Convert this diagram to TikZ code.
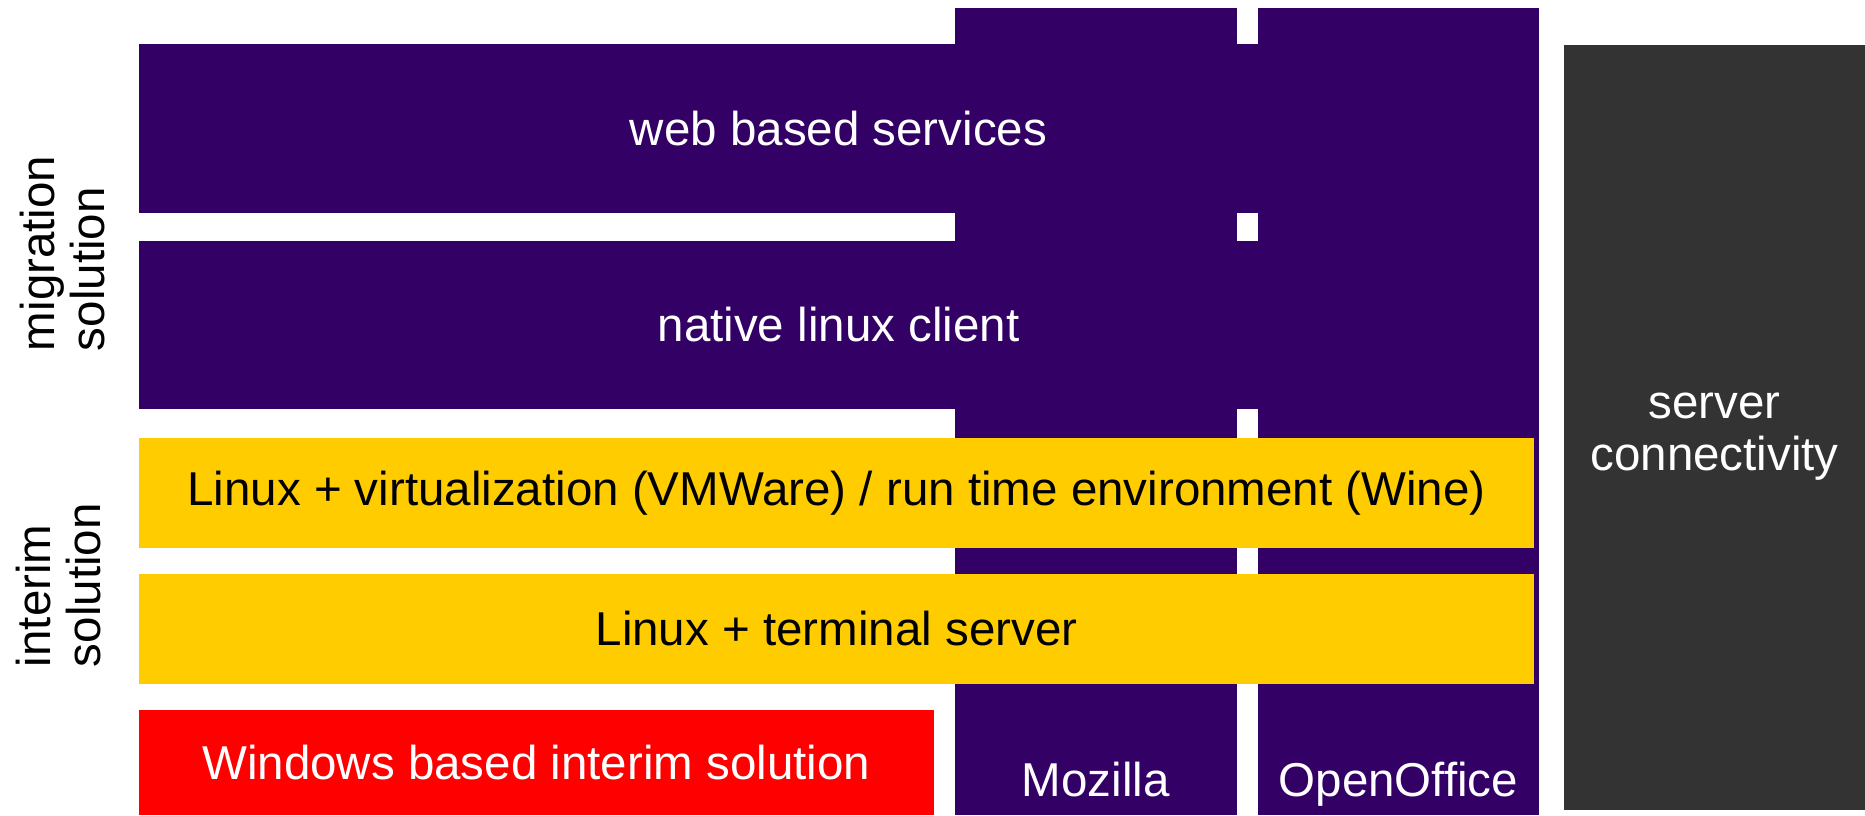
\documentclass[tikz,border=0pt]{standalone}
\usepackage{fontspec}
\setmainfont{Liberation Sans}
\definecolor{purp}{HTML}{330066}
\definecolor{yel}{HTML}{FFCC00}
\definecolor{redb}{HTML}{FF0000}
\definecolor{srv}{HTML}{333333}
\begin{document}
\begin{tikzpicture}[x=1pt,y=-1pt,
  every node/.style={inner sep=0pt, outer sep=0pt, font=\fontsize{47.5}{50}\selectfont},
  block/.style={rectangle, draw=none, fill=#1},
  wtext/.style={text=white},
  btext/.style={text=black}]
\useasboundingbox[fill=white] (0,0) rectangle (1865,815);
% application columns
\node[block=purp, minimum width=281.6pt, minimum height=806.7pt] (moz) at (1095.8,411.65) {};
\node[block=purp, minimum width=280.8pt, minimum height=806.7pt] (oo) at (1398.4,411.65) {};
% server
\node[block=srv, minimum width=300.7pt, minimum height=765pt] (server) at (1714.65,427.5) {};
\node[wtext, anchor=base] (srvl1) at (server.center |- 0,418) {server};
\node[wtext, anchor=base] (srvl2) at (server.center |- 0,470) {connectivity};
% migration bars
\node[block=purp, wtext, minimum width=1399pt, minimum height=169pt] (web) at (838.5,128.8) {web based services};
\node[block=purp, wtext, minimum width=1399pt, minimum height=168.6pt] (native) at (838.5,325) {native linux client};
% interim bars
\node[block=yel, btext, minimum width=1395pt, minimum height=110pt] (virt) at (836.5,492.7) {Linux + virtualization (VMWare) / run time environment (Wine)};
\node[block=yel, btext, minimum width=1395pt, minimum height=110pt] (term) at (836.5,628.7) {Linux + terminal server};
\node[block=redb, wtext, minimum width=794.5pt, minimum height=105pt] (win) at (536.25,762.5) {Windows based interim solution};
% column labels
\node[wtext, anchor=base] (mozl) at (moz.center |- 0,796) {Mozilla};
\node[wtext, anchor=base] (ool) at (oo.center |- 0,796) {OpenOffice};
% side labels
\node[btext, rotate=90, align=left, anchor=west] (mig) at (62.5,351) {migration\\solution};
\node[btext, rotate=90, align=left, anchor=west] (int) at (58.5,667) {interim\\solution};
\end{tikzpicture}
\end{document}
